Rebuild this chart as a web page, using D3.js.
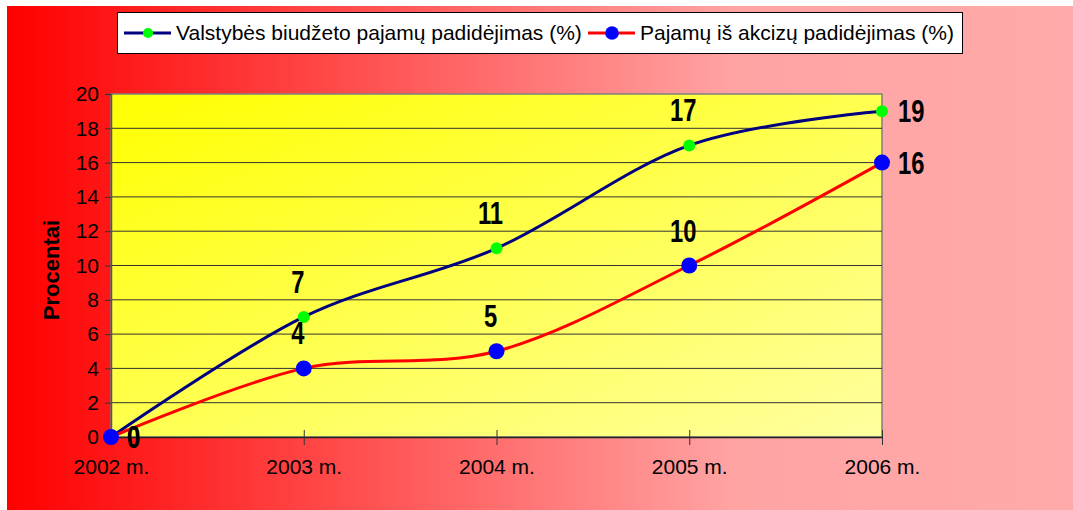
<!DOCTYPE html>
<html>
<head>
<meta charset="utf-8">
<script src="https://cdn.jsdelivr.net/npm/d3@7"></script>
<style>
  html, body { margin: 0; padding: 0; background: #fff; }
  svg { display: block; font-family: "Liberation Sans", Arial, sans-serif; }
</style>
</head>
<body>
<div id="chart"></div>
<script>
// chart data
const years = ["2002 m.", "2003 m.", "2004 m.", "2005 m.", "2006 m."]
const budgetGrowth = [0, 7, 11, 17, 19]
const exciseGrowth = [0, 4, 5, 10, 16]
const yTicks = [0, 2, 4, 6, 8, 10, 12, 14, 16, 18, 20]
const seriesNames = ["Valstybės biudžeto pajamų padidėjimas (%)", "Pajamų iš akcizų padidėjimas (%)"]

window.onload = () => {
  const width = 1073
  const height = 510
  const plot = { left: 111, top: 94, right: 882, bottom: 437 }

  const svg = d3.select("#chart").append("svg")
    .attr("width", width)
    .attr("height", height)

  const defs = svg.append("defs")
  const bg = defs.append("linearGradient").attr("id", "bg")
    .attr("x1", 0).attr("y1", 0).attr("x2", 1).attr("y2", 0)
  bg.append("stop").attr("offset", 0).attr("stop-color", "#ff0000")
  bg.append("stop").attr("offset", 0.68).attr("stop-color", "#ffa3a3")
  bg.append("stop").attr("offset", 1).attr("stop-color", "#ffaaaa")

  const pg = defs.append("linearGradient").attr("id", "plotbg")
    .attr("x1", 0).attr("y1", 0).attr("x2", 1).attr("y2", 1)
  pg.append("stop").attr("offset", 0).attr("stop-color", "#ffff00")
  pg.append("stop").attr("offset", 1).attr("stop-color", "#ffffa0")

  // chart area
  svg.append("rect")
    .attr("x", 7).attr("y", 6)
    .attr("width", width - 7).attr("height", height - 6)
    .attr("fill", "url(#bg)")

  const x = d3.scalePoint().domain(years).range([plot.left, plot.right])
  const y = d3.scaleLinear().domain([0, 20]).range([plot.bottom, plot.top])

  svg.append("rect")
    .attr("x", plot.left).attr("y", plot.top)
    .attr("width", plot.right - plot.left).attr("height", plot.bottom - plot.top)
    .attr("fill", "url(#plotbg)")
    .attr("stroke", "#808080")
    .attr("stroke-width", 1.5)

  // gridlines
  svg.append("g").selectAll("line")
    .data(yTicks.filter(d => d > 0 && d < 20))
    .enter().append("line")
    .attr("x1", plot.left).attr("x2", plot.right)
    .attr("y1", d => y(d)).attr("y2", d => y(d))
    .attr("stroke", "#333")
    .attr("stroke-width", 1)

  // y axis
  const yAxis = svg.append("g")
    .attr("transform", `translate(${plot.left},0)`)
    .call(d3.axisLeft(y).tickValues(yTicks).tickSize(6).tickPadding(6))
  yAxis.select(".domain").attr("stroke", "#555").attr("stroke-width", 1.5)
  yAxis.selectAll(".tick line").attr("stroke", "#333")
  yAxis.selectAll("text").attr("font-size", 21).attr("fill", "#000")
    .attr("font-family", "Liberation Sans, Arial, sans-serif")

  // x axis
  const xAxis = svg.append("g")
    .attr("transform", `translate(0,${plot.bottom})`)
    .call(d3.axisBottom(x).tickSizeInner(8).tickSizeOuter(0).tickPadding(14))
  xAxis.select(".domain").attr("stroke", "#222").attr("stroke-width", 1.5)
  xAxis.selectAll(".tick line").attr("stroke", "#333").attr("y1", -7)
  xAxis.selectAll("text").attr("font-size", 21).attr("fill", "#000")
    .attr("font-family", "Liberation Sans, Arial, sans-serif")

  // axis title
  svg.append("text")
    .attr("transform", `translate(59,270) rotate(-90)`)
    .attr("text-anchor", "middle")
    .attr("font-size", 22)
    .attr("font-weight", "bold")
    .text("Procentai")

  const line = d3.line()
    .x((d, i) => x(years[i]))
    .y(d => y(d))
    .curve(d3.curveCardinal)

  const series = [
    { values: budgetGrowth, color: "#000080", marker: "#00ff00", r: 6 },
    { values: exciseGrowth, color: "#ff0000", marker: "#0000ff", r: 8 }
  ]

  series.forEach(s => {
    svg.append("path")
      .datum(s.values)
      .attr("d", line)
      .attr("fill", "none")
      .attr("stroke", s.color)
      .attr("stroke-width", 3)
  })

  series.forEach(s => {
    svg.append("g").selectAll("circle")
      .data(s.values)
      .enter().append("circle")
      .attr("cx", (d, i) => x(years[i]))
      .attr("cy", d => y(d))
      .attr("r", s.r)
      .attr("fill", s.marker)
  })

  // data labels (end points to the right, others above)
  const isEnd = (i, n) => i === 0 || i === n - 1
  series.forEach(s => {
    svg.append("g").selectAll("text")
      .data(s.values)
      .enter().append("text")
      .attr("transform", (d, i) => {
        const px = x(years[i]), py = y(d)
        const tx = isEnd(i, s.values.length) ? px + 16 : px - 6
        const ty = isEnd(i, s.values.length) ? py + 11 : py - 24
        return `translate(${tx},${ty}) scale(0.82,1.05)`
      })
      .attr("text-anchor", (d, i) => isEnd(i, s.values.length) ? "start" : "middle")
      .attr("font-size", 29)
      .attr("font-weight", "bold")
      .attr("fill", "#000")
      .text(d => d)
  })

  // legend
  const legend = svg.append("g")
  legend.append("rect")
    .attr("x", 117.5).attr("y", 12.5)
    .attr("width", 845).attr("height", 41)
    .attr("fill", "#fff")
    .attr("stroke", "#000")
    .attr("stroke-width", 1)

  const legendX = [124, 588]
  series.forEach((s, i) => {
    const lx = legendX[i]
    legend.append("line")
      .attr("x1", lx).attr("x2", lx + 47)
      .attr("y1", 33).attr("y2", 33)
      .attr("stroke", s.color).attr("stroke-width", 3)
    legend.append("circle")
      .attr("cx", lx + 24).attr("cy", 33).attr("r", s.r * 0.85)
      .attr("fill", s.marker)
    legend.append("text")
      .attr("x", lx + 52).attr("y", 40)
      .attr("font-size", 21)
      .attr("fill", "#000")
      .text(seriesNames[i])
  })
}
</script>
</body>
</html>
